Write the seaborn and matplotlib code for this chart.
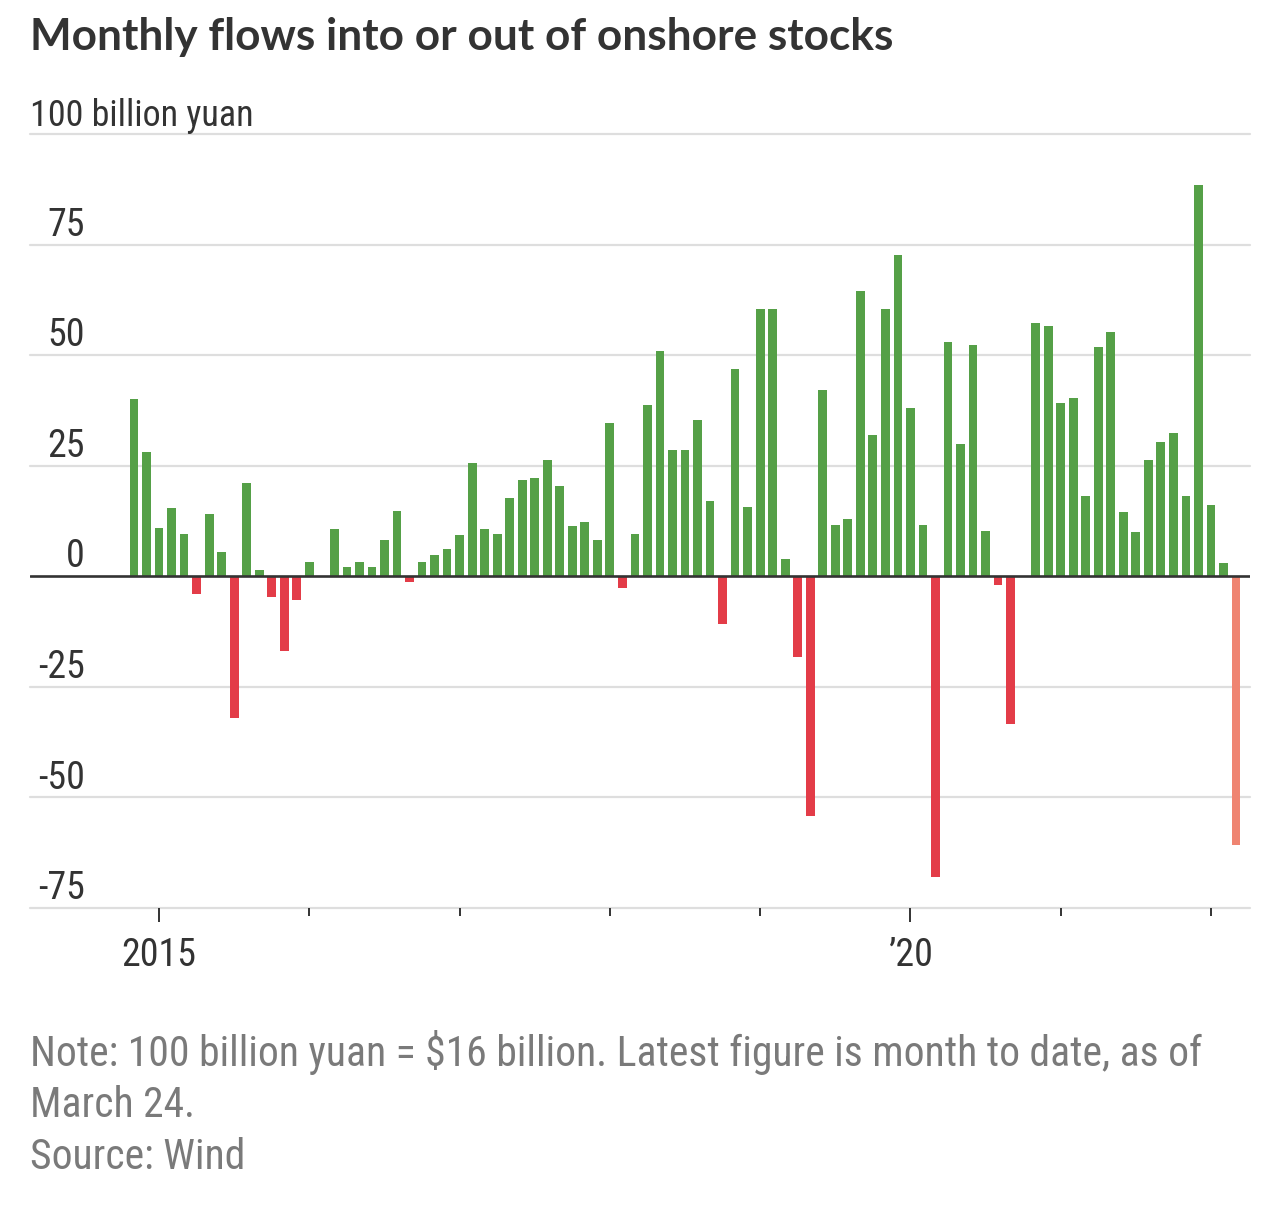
import pandas as pd
import matplotlib
matplotlib.use("Agg")
import matplotlib.pyplot as plt
from matplotlib import font_manager
import seaborn as sns

# monthly flows, in 100 billion yuan
months = pd.period_range("2014-11", "2022-03", freq="M")
values = [
    40, 28, 11, 15.5, 9.5, -4, 14, 5.4, -32, 21,
    1.4, -4.7, -17, -5.4, 3.3, 0, 10.8, 2.0, 3.3, 2.0,
    8.2, 14.8, -1.3, 3.3, 4.7, 6.1, 9.4, 25.7, 10.8, 9.5,
    17.7, 21.7, 22.3, 26.4, 20.4, 11.4, 12.2, 8.2, 34.6, -2.7,
    9.5, 38.7, 51.0, 28.5, 28.5, 35.3, 17.0, -10.8, 46.8, 15.6,
    60.5, 60.5, 4.0, -18.3, -54.2, 42.1, 11.6, 12.9, 64.6, 31.9,
    60.5, 72.7, 38.0, 11.6, -67.9, 53.0, 29.9, 52.4, 10.2, -1.9,
    -33.3, 0, 57.3, 56.7, 39.1, 40.4, 18.1, 51.9, 55.3, 14.6,
    9.9, 26.2, 30.3, 32.3, 18.1, 88.4, 16.1, 3.1, -60.8,
]
y_ticks = [75, 50, 25, 0, -25, -50, -75]
grid_levels = [100, 75, 50, 25, -25, -50, -75]
year_labels = {2015: "2015", 2020: "\u201920"}

GREEN = "#55a047"
RED = "#e33c48"
SALMON = "#ef8471"
TEXT = "#333333"
NOTE = "#7a7a7a"

kind = ["in" if v >= 0 else "out" for v in values]
kind[-1] = "latest"
df = pd.DataFrame({
    "month": [m.strftime("%Y-%m") for m in months],
    "value": values,
    "kind": kind,
})

sns.set_theme(style="white")

# pick a narrow face if one is installed
fonts = font_manager.fontManager.ttflist
names = {f.name for f in fonts}
stretch = "normal"
family = "Roboto"
for cand in ["Liberation Sans Narrow", "Roboto Condensed", "Open Sans Condensed"]:
    if cand in names:
        family = cand
        break
else:
    if any(f.name == "DejaVu Sans" and "condensed" in str(f.stretch) for f in fonts):
        family, stretch = "DejaVu Sans", "condensed"
    elif "Roboto" not in names:
        family = "DejaVu Sans"
plt.rcParams["font.family"] = [family, "DejaVu Sans"]
plt.rcParams["font.stretch"] = stretch

W, H = 1280, 1207
fig = plt.figure(figsize=(W / 100, H / 100), dpi=100)
fig.patch.set_facecolor("white")
ax = fig.add_axes([30 / W, 1 - 908 / H, 1220 / W, (908 - 134) / H])
renderer = fig.canvas.get_renderer()


def fit(t, target_px):
    # scale a text so its width matches the reference
    w = t.get_window_extent(renderer).width
    t.set_fontsize(t.get_fontsize() * target_px / w)
    return t.get_fontsize()


sns.barplot(
    data=df, x="month", y="value", hue="kind",
    palette={"in": GREEN, "out": RED, "latest": SALMON},
    width=0.7, dodge=False, saturation=1, legend=False, ax=ax,
    linewidth=0, zorder=2,
)

n = len(values)
px = 12.52
ax.set_xlim(-(134 - 30) / px, (n - 1) + (1250 - 1236) / px)
ax.set_ylim(-75, 100)

for v in grid_levels:
    ax.axhline(v, color="#dedede", lw=1.6, zorder=0, clip_on=False)
ax.axhline(0, color=TEXT, lw=1.9, zorder=3)

for s in ax.spines.values():
    s.set_visible(False)
ax.set_xlabel("")
ax.set_ylabel("")
ax.set_yticks([])

# size for tick numbers from the width of "2015" in the reference
probe = fig.text(0, 0, "2015", fontsize=26)
num_size = fit(probe, 75)
probe.remove()

jan_idx = [i for i, m in enumerate(months) if m.month == 1]
major = [i for i in jan_idx if months[i].year in year_labels]
minor = [i for i in jan_idx if months[i].year not in year_labels]
ax.set_xticks(major, labels=[year_labels[months[i].year] for i in major])
ax.set_xticks(minor, minor=True)
ax.tick_params(axis="x", which="major", length=10, width=1.4, color=TEXT,
               labelsize=num_size, labelcolor=TEXT, pad=11, bottom=True)
ax.tick_params(axis="x", which="minor", length=5.5, width=1.4, color=TEXT,
               bottom=True)

ytr = ax.get_yaxis_transform()
lab_x = (85 - 30) / 1220
for v in y_ticks:
    ax.text(lab_x, v + 2.0, f"{v}", transform=ytr, ha="right", va="baseline",
            fontsize=num_size, color=TEXT)
unit = ax.text(0, 100 + 1.8, "100 billion yuan", transform=ytr, ha="left",
               va="baseline", fontsize=22, color=TEXT)
fit(unit, 223)

title = fig.text(30 / W, 1 - 50 / H, "Monthly flows into or out of onshore stocks",
                 fontsize=28, fontweight="bold", color=TEXT, va="baseline",
                 family=["Lato", "DejaVu Sans"], stretch="normal")
fit(title, 862)

note = fig.text(30 / W, 1 - 1066 / H,
                "Note: 100 billion yuan = $16 billion. Latest figure is month to date, as of",
                fontsize=26, color=NOTE, va="baseline")
note_size = fit(note, 1173)
fig.text(30 / W, 1 - 1117 / H, "March 24.", fontsize=note_size, color=NOTE, va="baseline")
fig.text(30 / W, 1 - 1169 / H, "Source: Wind", fontsize=note_size, color=NOTE, va="baseline")

fig.savefig("out.png", dpi=100, facecolor="white")
